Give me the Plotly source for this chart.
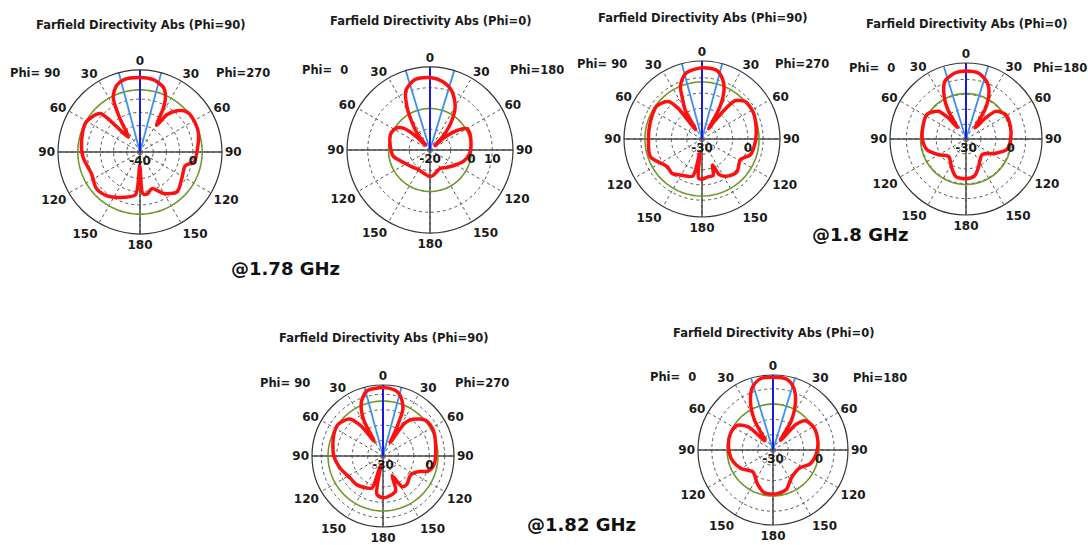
import plotly.graph_objects as go

W, H = 1088, 545

# ---------------- data ----------------
titles = ["Farfield Directivity Abs (Phi=90)", "Farfield Directivity Abs (Phi=0)",
          "Farfield Directivity Abs (Phi=90)", "Farfield Directivity Abs (Phi=0)",
          "Farfield Directivity Abs (Phi=90)", "Farfield Directivity Abs (Phi=0)"]
left_labels = ["Phi= 90", "Phi=  0", "Phi= 90", "Phi=  0", "Phi= 90", "Phi=  0"]
right_labels = ["Phi=270", "Phi=180", "Phi=270", "Phi=180", "Phi=270", "Phi=180"]
freq_labels = ["@1.78 GHz", "@1.8 GHz", "@1.82 GHz"]

angle_ticks = [0, 30, 60, 90, 120, 150, 180, 210, 240, 270, 300, 330]
angle_text = ["0", "30", "60", "90", "120", "150", "180", "150", "120", "90", "60", "30"]

r_min = [-40, -20, -30, -30, -30, -30]
r_max = [22, 20, 21, 21, 16, 19]
grid_vals = [[-40, -30, -20, -10, 0],
             [-20, -10, 0, 10],
             [-30, -20, -10, 0, 10],
             [-30, -20, -10, 0, 10],
             [-30, -20, -10, 0, 10],
             [-30, -20, -10, 0, 10]]
grid_text = [["-40", "", "", "", "0"],
             ["-20", "", "0", "10"],
             ["-30", "", "", "0", ""],
             ["-30", "", "", "0", ""],
             ["-30", "", "", "0", ""],
             ["-30", "", "", "0", ""]]
side_lobe_level = [7.0, 0.0, 7.3, 0.5, 5.6, 0.0]
main_dir = [0, 0, 0, 0, 0, 0]
half_width = [15, 17, 15, 17, 15, 17]

p1_theta = [0, 10, 20, 25, 28, 32, 36, 42, 50, 62, 73, 90, 100, 107, 120, 137, 150, 162, 170, 176,
            181, 186, 200, 217, 230, 246, 265, 281, 299, 314, 317, 322, 329, 334, 341, 348, 360]
p1_db = [16.4, 15.7, 11.9, 5.5, -2.5, -16.2, -5.0, 2.0, 6.8, 7.2, 6.3, 3.0, 1.7, -4.3, -3.1, 1.2, -3.8, -10.9, -7.9, -8.4,
         -29.4, -7.6, -3.6, 1.5, 3.0, 0.2, 3.3, 5.0, 6.6, 2.0, -11.7, -25.6, -10.6, 6.3, 13.6, 16.2, 16.4]

p2_theta = [0, 10, 20, 30, 38, 44, 47, 50, 54, 60, 67, 81, 95, 109, 124, 140, 151, 165, 172, 180,
            192, 210, 228, 242, 260, 275, 293, 304, 310, 314, 318, 322, 327, 332, 338, 348, 360]
p2_db = [14.9, 13.6, 10.4, 4.3, -4.0, -12.0, -16.8, -9.4, -4.0, 0.5, 0.8, 0.0, -0.8, -3.0, -6.4, -8.8, -9.9, -8.8, -7.8, -7.2,
         -8.2, -9.0, -8.0, -6.4, -2.1, -0.8, 0.5, -0.8, -4.0, -10.4, -16.8, -10.4, -4.0, 3.7, 11.0, 14.7, 14.9]

p3_theta = [0, 12, 19, 24, 29, 33, 35, 38, 41, 49, 62, 77, 92, 108, 118, 133, 144, 154, 158, 163,
            170, 180, 185, 189, 194, 211, 221, 232, 251, 270, 287, 306, 318, 322, 326, 330, 334, 338, 346, 360]
p3_db = [16.6, 16.0, 11.4, 5.5, -5.5, -22.0, -16.2, -4.2, 3.1, 7.4, 7.8, 6.3, 5.0, 3.3, -1.5, 1.3, -0.2, -4.0, -11.6, -5.0,
         -5.0, -3.7, -4.2, -20.6, -5.0, -2.6, -0.2, -0.9, 5.7, 5.0, 5.5, 6.6, 3.0, -4.2, -22.6, -8.0, -1.1, 7.6, 14.2, 16.6]

p4_theta = [0, 11, 21, 28, 33, 39, 43, 47, 58, 74, 91, 104, 116, 134, 157, 167, 180, 195, 206, 225,
            240, 255, 269, 286, 302, 315, 320, 323, 328, 333, 340, 351, 360]
p4_db = [15.6, 14.9, 10.2, 2.6, -6.9, -20.3, -10.7, -2.8, 1.2, 1.0, -0.1, -1.5, -8.1, -14.9, -8.9, -4.6, -3.3, -3.9, -8.2, -13.5,
         -8.8, -2.8, -0.8, 0.1, 1.0, -3.7, -11.6, -20.3, -7.5, 2.4, 11.3, 15.0, 15.6]

p5_theta = [0, 10, 15, 19, 23, 26, 28, 32, 34, 39, 50, 63, 82, 100, 109, 113, 124, 140, 148, 155,
            160, 171, 180, 189, 194, 199, 207, 223, 236, 254, 271, 293, 306, 318, 324, 329, 332, 338, 346, 360]
p5_db = [14.3, 13.4, 11.3, 7.9, 3.0, -10.4, -20.1, -10.0, -4.0, 0.7, 6.0, 6.6, 4.5, 3.5, 0.5, -4.4, -8.3, -6.0, -6.5, -16.0,
         -6.0, -3.8, -3.0, -4.8, -24.0, -8.0, -6.8, -4.8, -4.4, -1.2, 2.0, 4.7, 5.5, 2.2, -6.4, -18.8, -3.0, 7.5, 13.4, 14.3]

p6_theta = [0, 11, 18, 25, 32, 38, 42, 48, 61, 77, 93, 110, 125, 147, 161, 173, 180, 192, 204, 223,
            239, 256, 275, 291, 304, 313, 319, 328, 335, 342, 350, 360]
p6_db = [17.5, 17.1, 13.2, 4.8, -7.5, -22.0, -7.3, -1.4, 0.5, 0.0, -1.4, -4.0, -9.1, -8.1, -2.9, -1.4, -1.2, -1.6, -5.4, -10.6,
         -6.2, -2.5, -0.8, -0.2, -1.4, -7.9, -22.0, -7.3, 4.8, 13.2, 17.3, 17.5]

curves = [(p1_theta, p1_db), (p2_theta, p2_db), (p3_theta, p3_db),
          (p4_theta, p4_db), (p5_theta, p5_db), (p6_theta, p6_db)]

# ---------------- layout (pixel positions) ----------------
centers = [(140, 152), (430, 150), (702, 139), (966, 139), (383, 456), (773, 450)]
radii = [82, 83, 78, 76, 71, 75]
title_pos = [(140, 25), (430, 21), (702, 18), (966, 24), (383, 338), (773, 333)]
left_pos = [(35, 73), (325, 70), (602, 64), (872, 68), (285, 383), (673, 377)]
right_pos = [(243, 73), (537, 70), (802, 64), (1060, 68), (482, 383), (880, 378)]
freq_pos = [(285, 268), (860, 234), (581, 524)]

FONT = "DejaVu Sans"
fig = go.Figure()
annotations = []


def ann(text, pos, size, weight="bold", color="#1a1a1a"):
    return dict(text=text, x=pos[0] / W, y=1 - pos[1] / H, xref="paper", yref="paper",
                showarrow=False, xanchor="center", yanchor="middle",
                font=dict(family=FONT, size=size, color=color, weight=weight))


green_theta = list(range(0, 361, 3))
GRID = "#555555"
DASH = "3px,3px"

for i in range(6):
    sp = "polar" if i == 0 else f"polar{i + 1}"
    lo, hi = r_min[i], r_max[i]
    # solid cross lines
    fig.add_trace(go.Scatterpolar(r=[hi, lo, hi], theta=[0, 0, 180], mode="lines",
                                  line=dict(color="#4a4a4a", width=1.5), subplot=sp,
                                  cliponaxis=False, hoverinfo="skip", showlegend=False))
    fig.add_trace(go.Scatterpolar(r=[hi, lo, hi], theta=[90, 90, 270], mode="lines",
                                  line=dict(color="#4a4a4a", width=1.5), subplot=sp,
                                  cliponaxis=False, hoverinfo="skip", showlegend=False))
    # side lobe level circle
    fig.add_trace(go.Scatterpolar(r=[side_lobe_level[i]] * len(green_theta), theta=green_theta,
                                  mode="lines", line=dict(color="#6e9a2c", width=1.6),
                                  subplot=sp, hoverinfo="skip", showlegend=False))
    # 3 dB angular width lines
    for a in (main_dir[i] - half_width[i], main_dir[i] + half_width[i]):
        fig.add_trace(go.Scatterpolar(r=[lo, hi], theta=[a, a], mode="lines",
                                      line=dict(color="#3d8ff0", width=1.8), subplot=sp,
                                      cliponaxis=False, hoverinfo="skip", showlegend=False))
    # main lobe direction
    fig.add_trace(go.Scatterpolar(r=[lo, hi], theta=[main_dir[i], main_dir[i]], mode="lines",
                                  line=dict(color="#1a1ae0", width=2), subplot=sp,
                                  cliponaxis=False, hoverinfo="skip", showlegend=False))
    # farfield curve
    th, db = curves[i]
    fig.add_trace(go.Scatterpolar(r=db, theta=th, mode="lines",
                                  line=dict(color="#ff1010", width=3.5, shape="spline", smoothing=0.8),
                                  subplot=sp, showlegend=False))

    cx, cy = centers[i]
    R = radii[i]
    fig.update_layout({sp: dict(
        domain=dict(x=[(cx - R) / W, (cx + R) / W], y=[1 - (cy + R) / H, 1 - (cy - R) / H]),
        bgcolor="white",
        angularaxis=dict(rotation=90, direction="clockwise", tickmode="array",
                         tickvals=angle_ticks, ticktext=angle_text, ticks="",
                         showgrid=True, gridcolor=GRID, griddash=DASH, gridwidth=1,
                         showline=True, linecolor="#333333", linewidth=1.2,
                         tickfont=dict(family=FONT, size=12, color="#1a1a1a", weight="bold")),
        radialaxis=dict(range=[lo, hi], tickmode="array", tickvals=grid_vals[i],
                        ticktext=grid_text[i], showgrid=True, gridcolor=GRID,
                        griddash=DASH, gridwidth=1, showline=False, ticks="",
                        angle=0, side="clockwise", tickangle=0,
                        tickfont=dict(family=FONT, size=12, color="#1a1a1a", weight="bold")),
    )})

    annotations.append(ann(titles[i], title_pos[i], 11.5))
    annotations.append(ann(left_labels[i], left_pos[i], 11.5))
    annotations.append(ann(right_labels[i], right_pos[i], 11.5))

for j in range(3):
    annotations.append(ann(freq_labels[j], freq_pos[j], 18, color="#111111"))

fig.update_layout(width=W, height=H, margin=dict(l=0, r=0, t=0, b=0),
                  paper_bgcolor="white", plot_bgcolor="white",
                  annotations=annotations, showlegend=False)

fig.write_html("out.html")
